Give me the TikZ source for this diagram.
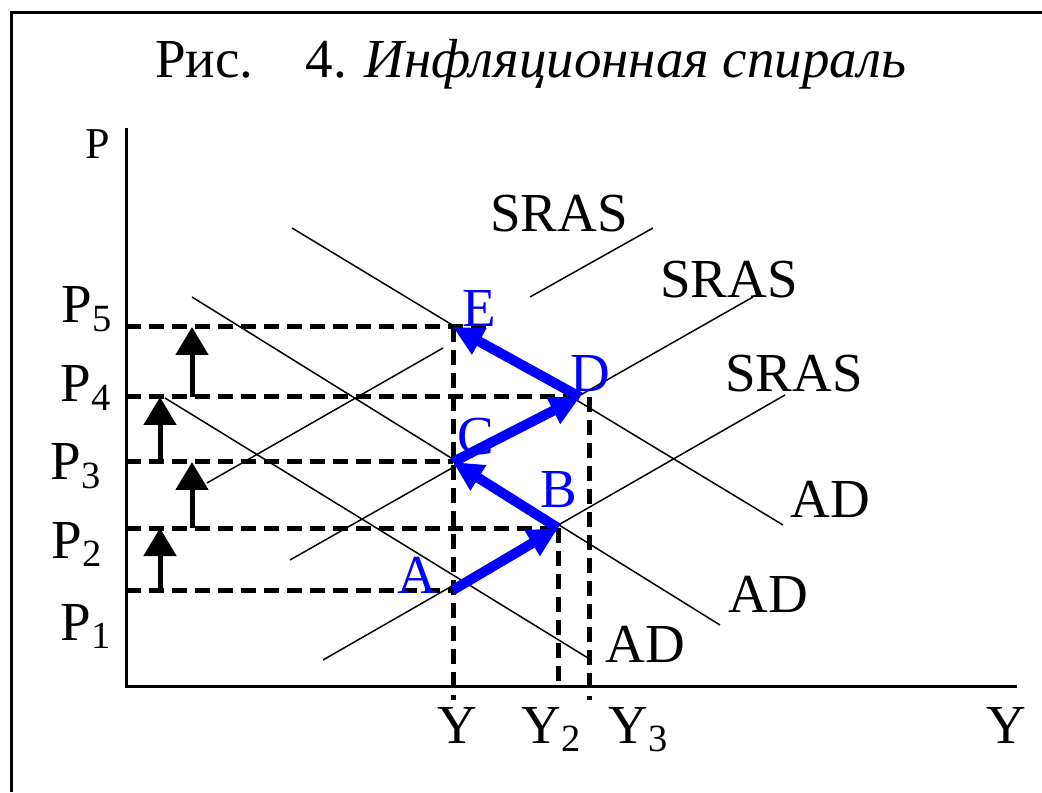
\documentclass[tikz,border=0pt]{standalone}
\usepackage{fontspec}
\setmainfont{Liberation Serif}
\usetikzlibrary{arrows.meta}

\tikzset{
  curve/.style={line width=0.75pt},
  level/.style={line width=2.5pt, dash pattern=on 7.5pt off 4pt},
  spiral/.style={blue, line width=5pt, -{Triangle[length=15pt,width=14pt]}},
  rise/.style={line width=2.5pt, -{Triangle[length=14pt,width=16pt]}},
  lab/.style={inner sep=0pt, anchor=base west},
  pnt/.style={lab, text=blue},
}

\begin{document}
\begin{tikzpicture}[x=0.5pt, y=0.5pt, font=\fontsize{27.5}{30}\selectfont]
    \useasboundingbox (-126,-106) rectangle (916,686);
    % frame and title
    \draw[line width=1.5pt] (-114,-106) -- (-114,673) -- (916,673);
    \node[lab] (title) at (29,608) {Рис.\hspace{26pt}4.\hspace{9pt}\textit{Инфляционная спираль}};

    % axes
    \coordinate (O) at (0,0);
    \draw[line width=1.5pt] (0,558) -- (O) -- (891,0);

    % equilibrium points and price levels
    \coordinate (A) at (327,96);
    \coordinate (B) at (432,158);
    \coordinate (C) at (327,224);
    \coordinate (D) at (454,289);
    \coordinate (E) at (327,359);
    \coordinate (p1) at (0,96);
    \coordinate (p2) at (0,158);
    \coordinate (p3) at (0,224);
    \coordinate (p4) at (0,289);
    \coordinate (p5) at (0,359);
    \coordinate (d3) at (463,289);
    \coordinate (ylow) at (0,-14);
    \coordinate (ua) at (34,0);
    \coordinate (ub) at (66,0);

    % SRAS and AD lines
    \draw[curve] (197,26) -- (659,291);
    \draw[curve] (164,126) -- (627,389);
    \draw[curve] (81,203) -- (317,338);
    \draw[curve] (404,389) -- (527,458);
    \draw[curve] (39,288) -- (462,28);
    \draw[curve] (66,389) -- (594,61);
    \draw[curve] (166,458) -- (657,161);

    % dashed guides
    \draw[level] (p1) -- (A);
    \draw[level] (p2) -- (B);
    \draw[level] (p3) -- (C);
    \draw[level] (p4) -- (D);
    \draw[level] (p5) -- (E) -- +(40,0);
    \draw[level] (E) -- (E |- ylow);
    \draw[level] (B) -- (B |- O);
    \draw[level] (d3) -- (d3 |- ylow);

    % price rises
    \draw[rise] (ua |- p1) -- (ua |- p2);
    \draw[rise] (ub |- p2) -- (ub |- p3);
    \draw[rise] (ua |- p3) -- (ua |- p4);
    \draw[rise] (ub |- p4) -- (ub |- p5);

    % the spiral
    \draw[spiral] (A) -- (B);
    \draw[spiral] (B) -- (C);
    \draw[spiral] (C) -- (D);
    \draw[spiral] (D) -- (E);

    % labels
    \node[lab, anchor=base east, font=\fontsize{22}{24}\selectfont] (lp) at (-16,527) {P};
    \node[lab, anchor=base east] (lp5) at (-13,363) {P\textsubscript{5}};
    \node[lab, anchor=base east] (lp4) at (-14,284) {P\textsubscript{4}};
    \node[lab, anchor=base east] (lp3) at (-24,206) {P\textsubscript{3}};
    \node[lab, anchor=base east] (lp2) at (-23,128) {P\textsubscript{2}};
    \node[lab, anchor=base east] (lp1) at (-14,46) {P\textsubscript{1}};
    \node[lab, anchor=base] (ly) at (331,-57) {Y};
    \node[lab] (ly2) at (395,-57) {Y\textsubscript{2}};
    \node[lab] (ly3) at (482,-57) {Y\textsubscript{3}};
    \node[lab, anchor=base] (lyy) at (880,-57) {Y};
    \node[lab] (sras3) at (364,454) {SRAS};
    \node[lab] (sras2) at (534,388) {SRAS};
    \node[lab] (sras1) at (599,294) {SRAS};
    \node[lab] (ad3) at (664,169) {AD};
    \node[lab] (ad2) at (602,74) {AD};
    \node[lab] (ad1) at (479,24) {AD};
    \node[pnt] (la) at (271,93) {A};
    \node[pnt] (lb) at (414,178) {B};
    \node[pnt] (lc) at (331,231) {C};
    \node[pnt] (ld) at (444,294) {D};
    \node[pnt] (le) at (336,359) {E};
\end{tikzpicture}
\end{document}
